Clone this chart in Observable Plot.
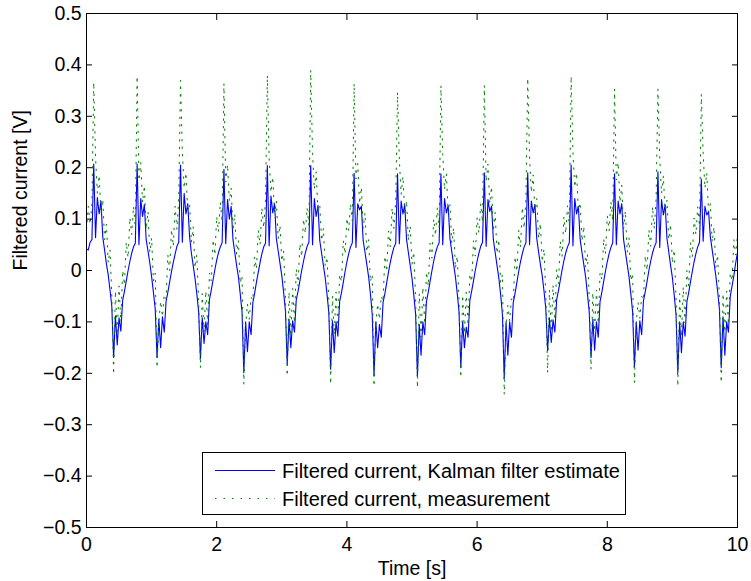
<!DOCTYPE html>
<html><head><meta charset="utf-8">
<script src="https://cdn.jsdelivr.net/npm/d3@7"></script>
<script src="https://cdn.jsdelivr.net/npm/@observablehq/plot@0.6"></script>
<style>
body{margin:0;background:#fff;}
#wrap{position:relative;width:751px;height:581px;font-family:"Liberation Sans",Arial,Helvetica,sans-serif;}
#legend{position:absolute;left:202px;top:452px;}
</style></head>
<body><div id="wrap"></div>
<script>
// sampling interval of the recorded signals [s]
const sampleStep = 1/36;
const xTicks = [0, 2, 4, 6, 8, 10];
const yTicks = [-0.5, -0.4, -0.3, -0.2, -0.1, 0, 0.1, 0.2, 0.3, 0.4, 0.5];
const xLabel = "Time [s]";
const yLabel = "Filtered current [V]";
const seriesNames = ["Filtered current, Kalman filter estimate", "Filtered current, measurement"];

// Kalman filter estimate [V]
const kalman = [
0.042, 0.04, 0.055, 0.06,
0.207, 0.064, 0.142, 0.11, 0.135, 0.065, 0.04, 0.013, -0.008, -0.038, -0.07, -0.169, -0.088, -0.145, -0.092, -0.118, -0.058, -0.04, -0.02, 0.0, 0.018, 0.034, 0.046, 0.053,
0.207, 0.05, 0.14, 0.105, 0.128, 0.06, 0.038, 0.015, -0.012, -0.042, -0.075, -0.169, -0.095, -0.15, -0.09, -0.12, -0.06, -0.042, -0.022, -0.002, 0.016, 0.032, 0.047, 0.055,
0.205, 0.055, 0.15, 0.11, 0.13, 0.066, 0.034, 0.01, -0.015, -0.045, -0.08, -0.171, -0.092, -0.142, -0.1, -0.125, -0.056, -0.038, -0.018, 0.002, 0.02, 0.035, 0.046, 0.054,
0.197, 0.052, 0.138, 0.1, 0.125, 0.06, 0.035, 0.01, -0.012, -0.045, -0.08, -0.199, -0.1, -0.158, -0.1, -0.125, -0.062, -0.044, -0.022, -0.003, 0.016, 0.033, 0.046, 0.053,
0.204, 0.048, 0.145, 0.112, 0.13, 0.062, 0.038, 0.014, -0.01, -0.042, -0.078, -0.182, -0.095, -0.15, -0.098, -0.12, -0.057, -0.04, -0.02, 0.0, 0.018, 0.034, 0.047, 0.055,
0.204, 0.05, 0.14, 0.105, 0.127, 0.058, 0.034, 0.01, -0.014, -0.046, -0.082, -0.192, -0.098, -0.16, -0.1, -0.128, -0.06, -0.043, -0.023, -0.002, 0.017, 0.033, 0.046, 0.054,
0.189, 0.045, 0.13, 0.118, 0.125, 0.058, 0.036, 0.012, -0.012, -0.045, -0.085, -0.205, -0.1, -0.15, -0.105, -0.13, -0.062, -0.045, -0.024, -0.003, 0.016, 0.032, 0.045, 0.053,
0.188, 0.052, 0.135, 0.11, 0.128, 0.06, 0.035, 0.01, -0.015, -0.048, -0.085, -0.205, -0.105, -0.165, -0.1, -0.125, -0.06, -0.042, -0.021, -0.001, 0.018, 0.034, 0.046, 0.054,
0.188, 0.05, 0.14, 0.112, 0.126, 0.062, 0.037, 0.012, -0.012, -0.044, -0.08, -0.189, -0.1, -0.15, -0.11, -0.13, -0.058, -0.04, -0.02, 0.0, 0.018, 0.034, 0.047, 0.055,
0.19, 0.047, 0.138, 0.115, 0.125, 0.06, 0.035, 0.01, -0.014, -0.046, -0.085, -0.21, -0.1, -0.165, -0.1, -0.13, -0.062, -0.044, -0.023, -0.002, 0.017, 0.033, 0.046, 0.054,
0.19, 0.05, 0.135, 0.112, 0.128, 0.062, 0.036, 0.012, -0.01, -0.04, -0.075, -0.156, -0.092, -0.14, -0.096, -0.12, -0.056, -0.039, -0.019, 0.001, 0.019, 0.034, 0.046, 0.054,
0.205, 0.048, 0.14, 0.11, 0.125, 0.06, 0.035, 0.012, -0.012, -0.045, -0.08, -0.169, -0.095, -0.155, -0.1, -0.13, -0.06, -0.042, -0.021, -0.001, 0.017, 0.033, 0.045, 0.054,
0.188, 0.05, 0.135, 0.11, 0.13, 0.06, 0.036, 0.012, -0.012, -0.045, -0.08, -0.188, -0.1, -0.155, -0.098, -0.125, -0.059, -0.041, -0.021, 0.0, 0.018, 0.034, 0.046, 0.054,
0.192, 0.045, 0.138, 0.108, 0.128, 0.062, 0.036, 0.01, -0.014, -0.048, -0.085, -0.199, -0.1, -0.16, -0.1, -0.128, -0.061, -0.043, -0.022, -0.002, 0.017, 0.033, 0.046, 0.055,
0.178, 0.057, 0.125, 0.108, 0.115, 0.065, 0.04, 0.015, -0.01, -0.04, -0.075, -0.189, -0.09, -0.165, -0.1, -0.12, -0.05, -0.03, -0.01, 0.015, 0.035
];

// measured filtered current [V]
const measurement = [
0.08, 0.125, 0.09, 0.13,
0.366, 0.22, 0.15, 0.185, 0.11, 0.138, 0.06, 0.09, 0.015, 0.04, -0.05, -0.202, -0.04, -0.125, -0.03, -0.1, 0.0, -0.028, 0.055, 0.025, 0.103, 0.07, 0.125, 0.085,
0.378, 0.175, 0.21, 0.132, 0.165, 0.08, 0.115, 0.035, 0.063, -0.02, -0.005, -0.189, -0.1, -0.06, -0.09, -0.047, -0.055, 0.03, 0.0, 0.08, 0.047, 0.125, 0.08, 0.14,
0.37, 0.23, 0.16, 0.19, 0.115, 0.13, 0.055, 0.085, 0.005, 0.03, -0.055, -0.189, -0.045, -0.12, -0.04, -0.105, -0.005, -0.02, 0.06, 0.03, 0.105, 0.075, 0.133, 0.095,
0.364, 0.172, 0.206, 0.135, 0.16, 0.078, 0.11, 0.032, 0.058, -0.025, -0.01, -0.221, -0.108, -0.065, -0.095, -0.052, -0.058, 0.026, 0.003, 0.078, 0.05, 0.122, 0.083, 0.138,
0.38, 0.218, 0.152, 0.182, 0.112, 0.135, 0.062, 0.088, 0.018, 0.038, -0.052, -0.205, -0.042, -0.128, -0.035, -0.102, 0.003, -0.03, 0.052, 0.027, 0.1, 0.072, 0.122, 0.088,
0.39, 0.228, 0.158, 0.192, 0.112, 0.128, 0.058, 0.082, 0.008, 0.026, -0.058, -0.221, -0.05, -0.125, -0.042, -0.108, -0.008, -0.022, 0.058, 0.032, 0.102, 0.078, 0.13, 0.097,
0.364, 0.178, 0.208, 0.13, 0.162, 0.082, 0.112, 0.036, 0.06, -0.022, -0.008, -0.225, -0.105, -0.065, -0.095, -0.05, -0.06, 0.028, -0.002, 0.077, 0.046, 0.122, 0.082, 0.137,
0.347, 0.215, 0.148, 0.183, 0.108, 0.136, 0.058, 0.087, 0.012, 0.036, -0.055, -0.228, -0.045, -0.13, -0.033, -0.104, -0.003, -0.03, 0.053, 0.024, 0.1, 0.068, 0.122, 0.083,
0.36, 0.226, 0.157, 0.188, 0.113, 0.128, 0.053, 0.083, 0.004, 0.028, -0.058, -0.208, -0.048, -0.122, -0.042, -0.107, -0.007, -0.022, 0.058, 0.028, 0.103, 0.073, 0.13, 0.094,
0.36, 0.173, 0.207, 0.13, 0.163, 0.076, 0.113, 0.033, 0.06, -0.023, -0.008, -0.241, -0.112, -0.068, -0.098, -0.055, -0.06, 0.027, -0.002, 0.078, 0.045, 0.123, 0.082, 0.138,
0.374, 0.222, 0.152, 0.186, 0.112, 0.14, 0.062, 0.092, 0.017, 0.042, -0.048, -0.199, -0.038, -0.12, -0.028, -0.096, 0.002, -0.026, 0.057, 0.027, 0.104, 0.072, 0.126, 0.087,
0.378, 0.23, 0.162, 0.19, 0.117, 0.132, 0.057, 0.086, 0.007, 0.032, -0.053, -0.192, -0.043, -0.118, -0.038, -0.103, -0.004, -0.018, 0.062, 0.032, 0.106, 0.077, 0.134, 0.097,
0.353, 0.176, 0.21, 0.133, 0.166, 0.08, 0.116, 0.035, 0.064, -0.02, -0.006, -0.218, -0.103, -0.062, -0.093, -0.05, -0.057, 0.029, 0.0, 0.079, 0.047, 0.124, 0.081, 0.14,
0.353, 0.219, 0.15, 0.184, 0.11, 0.137, 0.06, 0.09, 0.014, 0.04, -0.052, -0.225, -0.045, -0.128, -0.032, -0.102, 0.0, -0.03, 0.054, 0.026, 0.102, 0.07, 0.124, 0.086,
0.343, 0.228, 0.16, 0.19, 0.114, 0.13, 0.055, 0.085, 0.005, 0.03, -0.055, -0.218, -0.045, -0.12, -0.04, -0.105, -0.005, -0.02, 0.06, 0.03, 0.07
];

const kalmanData = kalman.map((v, i) => ({t: i * sampleStep, v}));
const measData = measurement.map((v, i) => ({t: i * sampleStep, v}));
const fmtY = d => d === 0 ? "0" : d3.format(".1f")(d);
const FONT = "Liberation Sans, Arial, Helvetica, sans-serif";

const chart = Plot.plot({
  width: 751, height: 581,
  marginLeft: 86, marginRight: 14, marginTop: 13, marginBottom: 54,
  x: {domain: [0, 10]},
  y: {domain: [-0.5, 0.5]},
  style: {fontFamily: FONT, fontSize: "19px", color: "#000", background: "#fff"},
  marks: [
    Plot.line(kalmanData, {x: "t", y: "v", stroke: "#0000ff", strokeWidth: 1.1, clip: true}),
    Plot.line(measData, {x: "t", y: "v", stroke: "#008000", strokeWidth: 1, strokeDasharray: "1.5,6", clip: true}),
    Plot.frame({stroke: "#000", strokeWidth: 1}),
    Plot.axisX(xTicks, {anchor: "bottom", tickSize: 6, dy: -6, tickFormat: () => "", label: null}),
    Plot.axisX(xTicks, {anchor: "top", tickSize: 6, dy: 6, tickFormat: () => "", label: null}),
    Plot.axisY(yTicks, {anchor: "left", tickSize: 6, dx: 6, tickFormat: () => "", label: null}),
    Plot.axisY(yTicks, {anchor: "right", tickSize: 6, dx: -6, tickFormat: () => "", label: null}),
    Plot.axisX(xTicks, {anchor: "bottom", tickSize: 0, tickPadding: 10, tickFormat: d => String(d), label: null, fontSize: 19.5}),
    Plot.axisY(yTicks, {anchor: "left", tickSize: 0, tickPadding: 5, tickFormat: fmtY, label: null, fontSize: 19.5}),
    Plot.text([xLabel], {frameAnchor: "bottom", dy: 47, text: d => d, fontSize: 19.5}),
    Plot.text([yLabel], {frameAnchor: "left", dx: -66, rotate: -90, text: d => d, fontSize: 19.5})
  ]
});
const wrap = document.getElementById("wrap");
wrap.appendChild(chart);

// legend box inside the axes
const ns = "http://www.w3.org/2000/svg";
const lg = document.createElementNS(ns, "svg");
lg.setAttribute("id", "legend");
lg.setAttribute("width", 424); lg.setAttribute("height", 63);
lg.innerHTML = `
<rect x="0.5" y="0.5" width="423" height="62" fill="#fff" stroke="#000" stroke-width="1"/>
<line x1="13" x2="73" y1="18.5" y2="18.5" stroke="#0000ff" stroke-width="1.1"/>
<line x1="13" x2="73" y1="46.5" y2="46.5" stroke="#008000" stroke-width="1" stroke-dasharray="1.5,7"/>
<text x="80" y="19" dominant-baseline="central" font-family="${FONT}" font-size="20">${seriesNames[0]}</text>
<text x="80" y="47" dominant-baseline="central" font-family="${FONT}" font-size="20">${seriesNames[1]}</text>`;
wrap.appendChild(lg);
</script>
</body></html>
